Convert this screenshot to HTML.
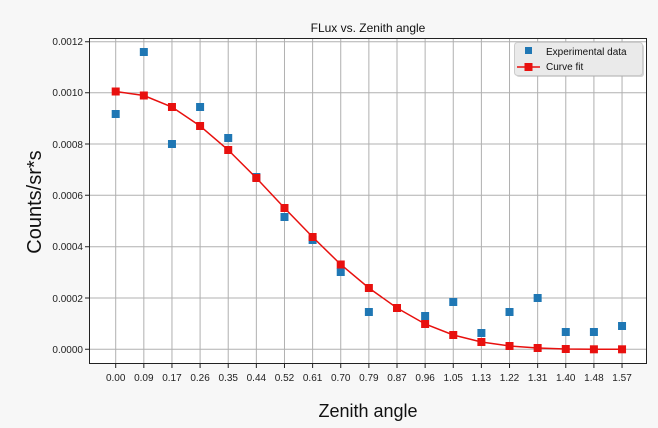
<!DOCTYPE html>
<html><head><meta charset="utf-8"><style>body{margin:0;background:#f7f7f7}svg{display:block}</style></head><body>
<svg width="658" height="428" xmlns="http://www.w3.org/2000/svg" font-family="Liberation Sans, DejaVu Sans, sans-serif">
<rect width="658" height="428" fill="#f7f7f7"/>
<rect x="89.5" y="38.5" width="557" height="325" fill="#fff"/>
<g stroke="#b0b0b0" stroke-width="1">
<path d="M90 349.3H646M90 298H646M90 246.7H646M90 195.3H646M90 144H646M90 92.7H646M90 41.7H646"/>
<path d="M115.7 39V363M143.83 39V363M171.96 39V363M200.09 39V363M228.22 39V363M256.35 39V363M284.48 39V363M312.61 39V363M340.74 39V363M368.87 39V363M397 39V363M425.13 39V363M453.26 39V363M481.39 39V363M509.52 39V363M537.65 39V363M565.78 39V363M593.91 39V363M622.04 39V363"/>
</g>
<g stroke="#222"><path d="M115.7 364V368M143.83 364V368M171.96 364V368M200.09 364V368M228.22 364V368M256.35 364V368M284.48 364V368M312.61 364V368M340.74 364V368M368.87 364V368M397 364V368M425.13 364V368M453.26 364V368M481.39 364V368M509.52 364V368M537.65 364V368M565.78 364V368M593.91 364V368M622.04 364V368"/>
<path d="M85 349.3H89M85 298H89M85 246.7H89M85 195.3H89M85 144H89M85 92.7H89M85 41.7H89"/></g>
<g font-size="10" fill="#222" text-anchor="middle">
<text x="115.7" y="381">0.00</text><text x="143.83" y="381">0.09</text><text x="171.96" y="381">0.17</text><text x="200.09" y="381">0.26</text><text x="228.22" y="381">0.35</text><text x="256.35" y="381">0.44</text><text x="284.48" y="381">0.52</text><text x="312.61" y="381">0.61</text><text x="340.74" y="381">0.70</text><text x="368.87" y="381">0.79</text><text x="397" y="381">0.87</text><text x="425.13" y="381">0.96</text><text x="453.26" y="381">1.05</text><text x="481.39" y="381">1.13</text><text x="509.52" y="381">1.22</text><text x="537.65" y="381">1.31</text><text x="565.78" y="381">1.40</text><text x="593.91" y="381">1.48</text><text x="622.04" y="381">1.57</text>
</g>
<g font-size="10" fill="#222" text-anchor="end">
<text x="83" y="353">0.0000</text><text x="83" y="302">0.0002</text><text x="83" y="250">0.0004</text><text x="83" y="199">0.0006</text><text x="83" y="148">0.0008</text><text x="83" y="96">0.0010</text><text x="83" y="45">0.0012</text>
</g>
<rect x="89.5" y="38.5" width="557" height="325" fill="none" stroke="#222" stroke-width="1"/>
<g fill="#1f77b4">
<rect x="111.7" y="110" width="8" height="8"/><rect x="139.83" y="48" width="8" height="8"/><rect x="167.96" y="140" width="8" height="8"/><rect x="196.09" y="103" width="8" height="8"/><rect x="224.22" y="134" width="8" height="8"/><rect x="252.35" y="173" width="8" height="8"/><rect x="280.48" y="213" width="8" height="8"/><rect x="308.61" y="236" width="8" height="8"/><rect x="336.74" y="268" width="8" height="8"/><rect x="364.87" y="308" width="8" height="8"/><rect x="393" y="304" width="8" height="8"/><rect x="421.13" y="312" width="8" height="8"/><rect x="449.26" y="298" width="8" height="8"/><rect x="477.39" y="329" width="8" height="8"/><rect x="505.52" y="308" width="8" height="8"/><rect x="533.65" y="294" width="8" height="8"/><rect x="561.78" y="328" width="8" height="8"/><rect x="589.91" y="328" width="8" height="8"/><rect x="618.04" y="322" width="8" height="8"/>
</g>
<polyline fill="none" stroke="#e8100e" stroke-width="1.5" points="115.7,91.5 143.83,95.5 171.96,107 200.09,126 228.22,150 256.35,178 284.48,208 312.61,237 340.74,264.5 368.87,288 397,308 425.13,324 453.26,335 481.39,342 509.52,346 537.65,348 565.78,349 593.91,349.3 622.04,349.3"/>
<g fill="#e8100e">
<rect x="111.7" y="87.5" width="8" height="8"/><rect x="139.83" y="91.5" width="8" height="8"/><rect x="167.96" y="103" width="8" height="8"/><rect x="196.09" y="122" width="8" height="8"/><rect x="224.22" y="146" width="8" height="8"/><rect x="252.35" y="174" width="8" height="8"/><rect x="280.48" y="204" width="8" height="8"/><rect x="308.61" y="233" width="8" height="8"/><rect x="336.74" y="260.5" width="8" height="8"/><rect x="364.87" y="284" width="8" height="8"/><rect x="393" y="304" width="8" height="8"/><rect x="421.13" y="320" width="8" height="8"/><rect x="449.26" y="331" width="8" height="8"/><rect x="477.39" y="338" width="8" height="8"/><rect x="505.52" y="342" width="8" height="8"/><rect x="533.65" y="344" width="8" height="8"/><rect x="561.78" y="345" width="8" height="8"/><rect x="589.91" y="345.3" width="8" height="8"/><rect x="618.04" y="345.3" width="8" height="8"/>
</g>
<text x="368" y="32" font-size="12" text-anchor="middle" fill="#111">FLux vs. Zenith angle</text>
<text x="368" y="417" font-size="18" text-anchor="middle" fill="#111">Zenith angle</text>
<text transform="translate(41,202) rotate(-90)" font-size="20" text-anchor="middle" fill="#111">Counts/sr*s</text>
<rect x="516" y="44" width="128" height="33" rx="3" fill="#aaa" opacity="0.5"/>
<rect x="514.5" y="42.5" width="128" height="33" rx="3" fill="#eaeaea" stroke="#ccc"/>
<rect x="525" y="47" width="7" height="7" fill="#1f77b4"/>
<text x="546" y="55" font-size="10" fill="#111">Experimental data</text>
<path d="M517 67H540" stroke="#e8100e" stroke-width="1.5"/><rect x="524.5" y="63" width="8" height="8" fill="#e8100e"/>
<text x="546" y="70" font-size="10" fill="#111">Curve fit</text>
</svg>
</body></html>
